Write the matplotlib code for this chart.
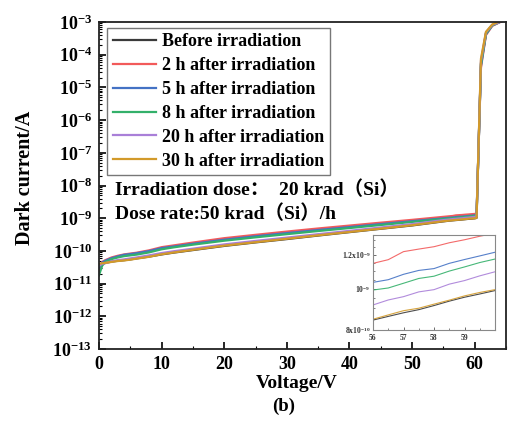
import matplotlib
matplotlib.use("Agg")
import matplotlib.pyplot as plt
from matplotlib.ticker import FixedLocator, FixedFormatter, LogLocator, NullFormatter, MultipleLocator

plt.rcParams['font.family'] = ['Liberation Serif', 'Noto Sans CJK SC', 'DejaVu Sans']
plt.rcParams['font.weight'] = 'bold'
plt.rcParams['mathtext.fontset'] = 'custom'
plt.rcParams['mathtext.rm'] = 'Liberation Serif:bold'
plt.rcParams['mathtext.it'] = 'Liberation Serif:bold'
plt.rcParams['mathtext.bf'] = 'Liberation Serif:bold'

# ---------------- data ----------------
voltage = [0, 0.5, 1, 2, 3, 4, 5, 6, 8, 10, 12, 15, 20, 25, 30, 35, 40, 45, 50, 55,
           56, 56.5, 57, 57.5, 58, 58.5, 59, 59.5, 60, 60.3, 61, 61.8, 62.8, 64, 65]

before = [3.0e-11, 4.0e-11, 4.3e-11, 4.7e-11, 5.0e-11, 5.2e-11, 5.5e-11, 5.9e-11, 6.7e-11, 7.8e-11,
          8.9e-11, 1.06e-10, 1.42e-10, 1.82e-10, 2.3e-10, 2.95e-10, 3.75e-10, 4.75e-10, 6.0e-10, 8.0e-10,
          8.44e-10, 8.61e-10, 8.78e-10, 8.93e-10, 9.13e-10, 9.35e-10, 9.55e-10, 9.72e-10, 9.90e-10,
          1.02e-9, 5.5e-5, 4.5e-4, 8.0e-4, 1.0e-3, 1.2e-3]
h2 = [2.2e-11, 4.6e-11, 5.2e-11, 6.3e-11, 7.1e-11, 7.8e-11, 8.3e-11, 8.8e-11, 1.04e-10, 1.3e-10,
      1.48e-10, 1.8e-10, 2.45e-10, 3.1e-10, 3.9e-10, 4.85e-10, 5.95e-10, 7.3e-10, 8.9e-10, 1.1e-9,
      1.147e-9, 1.17e-9, 1.222e-9, 1.239e-9, 1.255e-9, 1.282e-9, 1.303e-9, 1.328e-9, 1.35e-9,
      1.38e-9, 4.0e-5, 4.0e-4, 7.6e-4, 9.8e-4, 1.2e-3]
h5 = [3.0e-11, 4.4e-11, 5.0e-11, 6.0e-11, 6.8e-11, 7.6e-11, 8.0e-11, 8.5e-11, 9.9e-11, 1.22e-10,
      1.37e-10, 1.65e-10, 2.2e-10, 2.8e-10, 3.5e-10, 4.35e-10, 5.35e-10, 6.6e-10, 8.1e-10, 9.9e-10,
      1.035e-9, 1.05e-9, 1.081e-9, 1.104e-9, 1.115e-9, 1.147e-9, 1.171e-9, 1.194e-9, 1.218e-9,
      1.25e-9, 4.5e-5, 4.2e-4, 7.8e-4, 1.0e-3, 1.2e-3]
h8 = [1.8e-11, 3.5e-11, 4.6e-11, 5.6e-11, 6.3e-11, 6.9e-11, 7.3e-11, 7.7e-11, 9.0e-11, 1.12e-10,
      1.29e-10, 1.55e-10, 2.05e-10, 2.6e-10, 3.25e-10, 4.05e-10, 5.0e-10, 6.2e-10, 7.7e-10, 9.5e-10,
      9.93e-10, 1.004e-9, 1.030e-9, 1.057e-9, 1.070e-9, 1.100e-9, 1.125e-9, 1.152e-9, 1.174e-9,
      1.2e-9, 5.0e-5, 4.4e-4, 7.9e-4, 1.0e-3, 1.2e-3]
h20 = [3.5e-11, 4.0e-11, 4.2e-11, 4.8e-11, 5.2e-11, 5.5e-11, 5.9e-11, 6.3e-11, 7.3e-11, 8.6e-11,
       9.8e-11, 1.17e-10, 1.58e-10, 2.02e-10, 2.55e-10, 3.25e-10, 4.1e-10, 5.2e-10, 6.6e-10, 8.75e-10,
       9.16e-10, 9.41e-10, 9.58e-10, 9.83e-10, 9.95e-10, 1.025e-9, 1.045e-9, 1.072e-9, 1.096e-9,
       1.12e-9, 6.5e-5, 4.8e-4, 8.2e-4, 1.0e-3, 1.2e-3]
h30 = [4.0e-11, 4.2e-11, 4.3e-11, 4.6e-11, 4.9e-11, 5.1e-11, 5.4e-11, 5.8e-11, 6.6e-11, 7.9e-11,
       9.0e-11, 1.08e-10, 1.45e-10, 1.85e-10, 2.35e-10, 3.0e-10, 3.8e-10, 4.8e-10, 6.1e-10, 8.1e-10,
       8.48e-10, 8.68e-10, 8.88e-10, 9.00e-10, 9.20e-10, 9.40e-10, 9.62e-10, 9.80e-10, 9.95e-10,
       1.03e-9, 7.5e-5, 5.0e-4, 8.4e-4, 1.05e-3, 1.2e-3]

labels = ["Before irradiation", "2 h after irradiation", "5 h after irradiation",
          "8 h after irradiation", "20 h after irradiation", "30 h after irradiation"]
series = [before, h2, h5, h8, h20, h30]
colors = ["#3a3a3a", "#f25a5a", "#4472c4", "#33b06a", "#a97fd8", "#d29a2a"]

y_ticks = [1e-13, 1e-12, 1e-11, 1e-10, 1e-9, 1e-8, 1e-7, 1e-6, 1e-5, 1e-4, 1e-3]
y_ticklabels = [r"$10^{-13}$", r"$10^{-12}$", r"$10^{-11}$", r"$10^{-10}$", r"$10^{-9}$",
                r"$10^{-8}$", r"$10^{-7}$", r"$10^{-6}$", r"$10^{-5}$", r"$10^{-4}$", r"$10^{-3}$"]
x_ticks = [0, 10, 20, 30, 40, 50, 60]

inset_yticks = [8e-10, 1e-9, 1.2e-9]
inset_yticklabels = [r"$8\mathrm{x}10^{-10}$", r"$10^{-9}$", r"$1.2\mathrm{x}10^{-9}$"]
inset_xticks = [56, 57, 58, 59]

# ---------------- figure ----------------
fig = plt.figure(figsize=(5.2, 4.23), dpi=100)
ax = fig.add_axes([99/520, 1-349/423, 407/520, 327/423])

for y, c, lab in zip(series, colors, labels):
    ax.plot(voltage, y, color=c, lw=1.6, label=lab)

ax.set_yscale('log')
ax.set_xlim(0, 65)
ax.set_ylim(1e-13, 1e-3)
ax.yaxis.set_major_locator(FixedLocator(y_ticks))
ax.yaxis.set_major_formatter(FixedFormatter(y_ticklabels))
ax.yaxis.set_minor_locator(LogLocator(base=10, subs=range(2, 10), numticks=20))
ax.yaxis.set_minor_formatter(NullFormatter())
ax.xaxis.set_major_locator(FixedLocator(x_ticks))
ax.xaxis.set_minor_locator(MultipleLocator(5))
ax.tick_params(which='both', direction='in', top=False, right=False)
ax.tick_params(which='major', length=5, width=1.2, labelsize=13)
ax.tick_params(axis='x', which='major', pad=5)
ax.tick_params(axis='y', which='major', pad=5)
ax.tick_params(which='minor', length=2.5, width=0.8)
for lab in ax.get_xticklabels() + ax.get_yticklabels():
    lab.set_fontweight('bold')
for s in ax.spines.values():
    s.set_linewidth(1.3)
    s.set_color('#222222')

ax.set_xlabel("Voltage/V", fontsize=14, fontweight='bold')
ax.xaxis.set_label_coords((297 - 99) / 407, (349 - 384) / 327)
ax.xaxis.label.set_va('center')
ax.set_ylabel("Dark current/A", fontsize=14.5, fontweight='bold')
ax.yaxis.set_label_coords((25 - 99) / 407, (349 - 178) / 327)
ax.yaxis.label.set_va('center')
fig.text(284/520, 1-406/423, "(b)", ha='center', va='center', fontsize=13.5, fontweight='bold')

leg = ax.legend(loc='upper left', bbox_to_anchor=(0.02, 0.982), borderaxespad=0,
                fontsize=13, frameon=True, fancybox=False, edgecolor='#555555',
                handlelength=2.4, handletextpad=0.35, labelspacing=0.38, borderpad=0.3)
leg.get_frame().set_linewidth(1.0)
for t in leg.get_texts():
    t.set_fontweight('bold')

ax.text(0.039, 0.471, "Irradiation dose：  20 krad（Si）", transform=ax.transAxes,
        fontsize=14, fontweight='bold', va='baseline', ha='left')
ax.text(0.039, 0.398, "Dose rate:50 krad（Si）/h", transform=ax.transAxes,
        fontsize=14, fontweight='bold', va='baseline', ha='left')

# ---------------- inset ----------------
axi = fig.add_axes([373/520, 1-330/423, 122/520, 95/423])
for y, c in zip(series, colors):
    axi.plot(voltage, y, color=c, lw=0.8, alpha=0.9)
axi.set_yscale('log')
axi.set_xlim(56, 60)
axi.set_ylim(8e-10, 1.337e-9)
axi.yaxis.set_major_locator(FixedLocator(inset_yticks))
axi.yaxis.set_major_formatter(FixedFormatter(inset_yticklabels))
axi.yaxis.set_minor_locator(FixedLocator([8.5e-10, 9e-10, 9.5e-10, 1.05e-9, 1.1e-9, 1.15e-9, 1.25e-9, 1.3e-9]))
axi.yaxis.set_minor_formatter(NullFormatter())
axi.xaxis.set_major_locator(FixedLocator(inset_xticks))
axi.xaxis.set_minor_locator(MultipleLocator(0.5))
axi.tick_params(which='both', direction='in', top=False, right=False, colors='#555555')
axi.tick_params(which='major', length=2.5, width=0.6, labelsize=5.5, labelcolor='#333333')
axi.tick_params(axis='x', which='major', pad=3)
axi.tick_params(axis='y', which='major', pad=2)
axi.tick_params(which='minor', length=1.3, width=0.5)
for s in axi.spines.values():
    s.set_linewidth(0.8)
    s.set_color('#888888')

fig.savefig("out.png", dpi=100)
